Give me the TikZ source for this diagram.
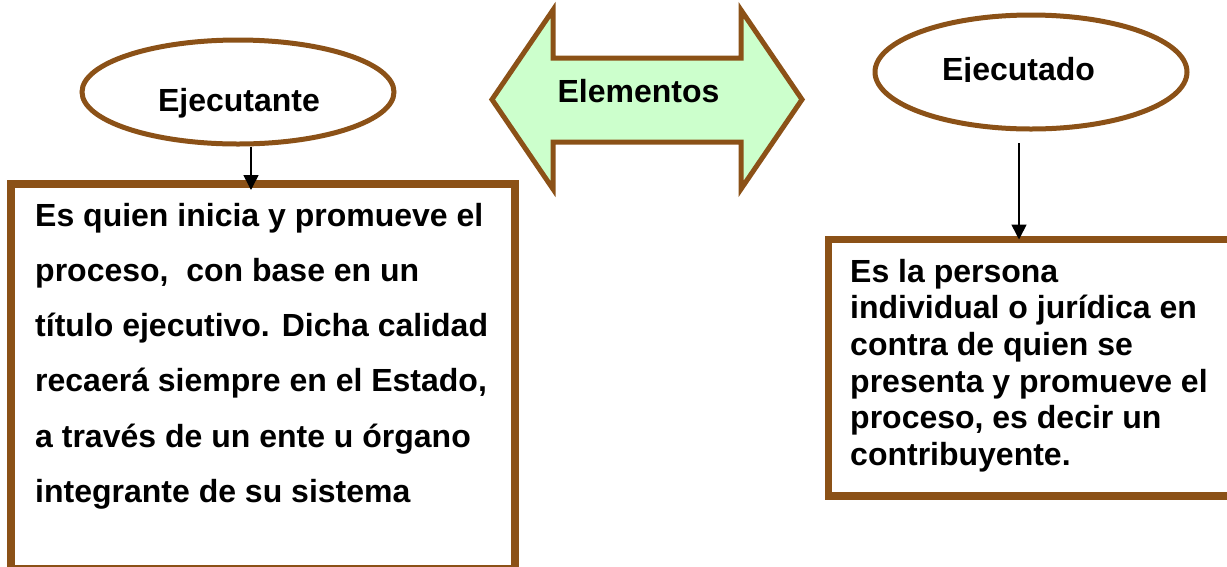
\documentclass[tikz,border=0pt]{standalone}
\usepackage{fontspec}
\setmainfont{Liberation Sans}
\usetikzlibrary{arrows.meta, shapes.geometric, positioning}

\definecolor{marron}{RGB}{139,81,23}
\definecolor{verdeclaro}{RGB}{204,255,204}

\begin{document}
\begin{tikzpicture}[x=1pt, y=-1pt, >={Triangle[length=15pt,width=15pt]},
  elipse/.style={ellipse, draw=marron, line width=5pt, minimum width=312pt, inner sep=0pt},
  caja/.style={rectangle, draw=marron, line width=7.5pt, inner sep=0pt, outer sep=0pt},
  flecha/.style={draw=marron, fill=verdeclaro, line width=5pt},
  texto/.style={font=\bfseries\fontsize{32}{37}\selectfont, inner sep=0pt},
  conector/.style={->, line width=1.6pt}]
  \clip (0,0) rectangle (1227,566);

  % Definir las elipses
  \node[elipse, minimum height=104pt] (ejecutante) at (238,92) {};
  \node[texto, anchor=base] (t-ejecutante) at (239,111.5) {Ejecutante};
  \node[elipse, minimum height=114pt] (ejecutado) at (1031,72) {};
  \begin{scope}
    \clip (900,30) rectangle (1150,81);
    \node[texto, anchor=base] (t-ejecutado) at (1018.5,80) {Ejecutado};
  \end{scope}

  % Flecha doble
  \draw[flecha] (492,99.5) -- (553,10) -- (553,58) -- (741,58) -- (741,10)
    -- (802,99.5) -- (741,189) -- (741,142) -- (553,142) -- (553,189) -- cycle;
  \node[texto, anchor=base] (elementos) at (638.5,102) {Elementos};

  % Cajas
  \node[caja, minimum width=504pt, minimum height=385pt] (caja-ejecutante) at (263,376.5) {};
  \node[caja, minimum width=402pt, minimum height=256.5pt] (caja-ejecutado) at (1029.5,367.75) {};
  \node[texto, font=\bfseries\fontsize{32}{55.3}\selectfont, align=left, anchor=north west]
    (d-ejecutante) at (35,202.7) {Es quien inicia y promueve el\\
    proceso,\ \ con base en un\\
    título ejecutivo. Dicha calidad\\
    recaerá siempre en el Estado,\\
    a través de un ente u órgano\\
    integrante de su sistema};
  \node[texto, font=\bfseries\fontsize{32}{36.7}\selectfont, align=left, anchor=north west]
    (d-ejecutado) at (850,258.7) {Es la persona\\
    individual o jurídica en\\
    contra de quien se\\
    presenta y promueve el\\
    proceso, es decir un\\
    contribuyente.};

  % Dibujar los conectores
  \coordinate (inicio) at (1019,143);
  \draw[conector, shorten >=-6pt] ([xshift=13pt]ejecutante.south) -- ([xshift=13pt]ejecutante.south |- caja-ejecutante.north);
  \draw[conector] (inicio) -- (inicio |- caja-ejecutado.north);
\end{tikzpicture}
\end{document}
